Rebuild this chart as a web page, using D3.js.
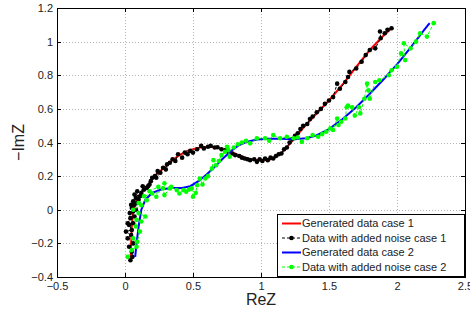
<!DOCTYPE html>
<html>
<head>
<meta charset="utf-8">
<script src="https://cdn.jsdelivr.net/npm/d3@7"></script>
<style>
	body { margin: 0; background: #fff; }
	svg { display: block; font-family: 'Liberation Sans', Arial, sans-serif; }
	.grid line { stroke: #b4b4b4; stroke-width: 1; stroke-dasharray: 1,2; }
	.axis path, .axis line { stroke: #000; shape-rendering: crispEdges; }
	.axis text { font-size: 11px; fill: #222; }
</style>
</head>
<body>
<div id="chart"></div>
<script>
// tick values
var xTicks = [-0.5, 0, 0.5, 1, 1.5, 2, 2.5];
var yTicks = [-0.4, -0.2, 0, 0.2, 0.4, 0.6, 0.8, 1, 1.2];

// generated data case 1 (ReZ, -ImZ)
var genCase1 = [
	[0.042, -0.31], [0.045, -0.2], [0.05, -0.1], [0.06, 0], [0.08, 0.05], [0.12, 0.1],
	[0.17, 0.15], [0.22, 0.2], [0.28, 0.245], [0.34, 0.29], [0.4, 0.325], [0.46, 0.35],
	[0.52, 0.365], [0.58, 0.373], [0.64, 0.373], [0.7, 0.365], [0.76, 0.35], [0.82, 0.33],
	[0.88, 0.31], [0.94, 0.298], [1.0, 0.293], [1.06, 0.298], [1.11, 0.315], [1.16, 0.345],
	[1.21, 0.39], [1.26, 0.44], [1.32, 0.495], [1.4, 0.565], [1.5, 0.65], [1.6, 0.745],
	[1.7, 0.85], [1.8, 0.95], [1.9, 1.035], [1.96, 1.08]
];

// data with added noise case 1
var noiseCase1 = [
	[0.04, -0.3], [0.055, -0.28], [0.05, -0.25], [0.03, -0.22], [0.06, -0.2], [0.02, -0.17],
	[0.045, -0.15], [0.007, -0.13], [0.05, -0.12], [0.03, -0.09], [0.06, -0.08], [0.02, -0.08],
	[0.04, -0.05], [0.07, -0.04], [0.035, -0.02], [0.06, -0.01], [0.05, 0.01], [0.08, 0.0],
	[0.045, 0.03], [0.07, 0.03], [0.09, 0.04], [0.06, 0.05], [0.1, 0.06], [0.08, 0.07],
	[0.11, 0.08], [0.07, 0.09], [0.12, 0.1], [0.09, 0.11], [0.14, 0.12], [0.16, 0.13],
	[0.13, 0.14], [0.18, 0.15], [0.17, 0.14], [0.2, 0.19], [0.19, 0.17], [0.22, 0.2],
	[0.24, 0.23], [0.23, 0.19], [0.26, 0.22], [0.28, 0.25], [0.3, 0.24], [0.31, 0.27],
	[0.33, 0.28], [0.35, 0.3], [0.37, 0.29], [0.39, 0.33], [0.42, 0.31], [0.44, 0.34],
	[0.46, 0.33], [0.48, 0.35], [0.5, 0.34], [0.53, 0.36], [0.56, 0.38], [0.58, 0.365],
	[0.61, 0.375], [0.63, 0.38], [0.66, 0.37], [0.68, 0.372], [0.71, 0.36], [0.74, 0.355],
	[0.76, 0.345], [0.79, 0.335], [0.81, 0.325], [0.84, 0.32], [0.86, 0.31], [0.88, 0.305],
	[0.9, 0.3], [0.92, 0.295], [0.95, 0.3], [0.97, 0.285], [0.99, 0.3], [1.01, 0.29],
	[1.03, 0.305], [1.05, 0.295], [1.07, 0.31], [1.09, 0.305], [1.11, 0.32], [1.13, 0.33],
	[1.15, 0.335], [1.17, 0.36], [1.19, 0.37], [1.21, 0.4], [1.23, 0.42], [1.25, 0.44],
	[1.27, 0.455], [1.29, 0.48], [1.31, 0.5], [1.34, 0.51], [1.36, 0.54], [1.38, 0.555],
	[1.41, 0.58], [1.44, 0.6], [1.47, 0.63], [1.5, 0.65], [1.53, 0.67], [1.56, 0.75],
	[1.58, 0.72], [1.62, 0.76], [1.64, 0.79], [1.65, 0.82], [1.7, 0.84], [1.74, 0.88],
	[1.77, 0.92], [1.8, 0.95], [1.84, 0.96], [1.88, 1.02], [1.875, 1.06], [1.91, 1.05],
	[1.93, 1.07], [1.96, 1.08]
];

// generated data case 2
var genCase2 = [
	[0.075, -0.28], [0.085, -0.2], [0.1, -0.1], [0.12, 0.0], [0.15, 0.06], [0.2, 0.1],
	[0.27, 0.122], [0.35, 0.13], [0.42, 0.13], [0.48, 0.14], [0.54, 0.17], [0.6, 0.21],
	[0.66, 0.255], [0.72, 0.305], [0.78, 0.35], [0.84, 0.385], [0.9, 0.405], [0.97, 0.418],
	[1.05, 0.423], [1.15, 0.423], [1.25, 0.42], [1.33, 0.425], [1.4, 0.44], [1.5, 0.48],
	[1.6, 0.54], [1.7, 0.61], [1.8, 0.69], [1.9, 0.775], [2.0, 0.865], [2.1, 0.965],
	[2.2, 1.07], [2.24, 1.11]
];

// data with added noise case 2
var noiseCase2 = [
	[0.02, -0.28], [0.05, -0.24], [0.085, -0.22], [0.06, -0.17], [0.09, -0.19], [0.11, -0.13],
	[0.08, -0.1], [0.085, -0.06], [0.12, -0.07], [0.15, -0.04], [0.1, -0.02], [0.06, 0.0],
	[0.12, 0.027], [0.1, 0.04], [0.16, 0.057], [0.14, 0.08], [0.2, 0.097], [0.18, 0.11],
	[0.245, 0.136], [0.23, 0.077], [0.29, 0.157], [0.28, 0.127], [0.29, 0.087], [0.33, 0.127],
	[0.34, 0.136], [0.38, 0.117], [0.4, 0.097], [0.43, 0.117], [0.45, 0.107], [0.47, 0.12],
	[0.49, 0.127], [0.5, 0.077], [0.52, 0.1], [0.53, 0.146], [0.55, 0.186], [0.57, 0.15],
	[0.59, 0.186], [0.61, 0.2], [0.64, 0.246], [0.65, 0.295], [0.67, 0.265], [0.69, 0.29],
	[0.71, 0.325], [0.735, 0.345], [0.76, 0.355], [0.77, 0.315], [0.75, 0.375], [0.8, 0.37],
	[0.83, 0.39], [0.86, 0.4], [0.89, 0.41], [0.92, 0.395], [0.97, 0.425], [1.03, 0.425],
	[1.06, 0.41], [1.09, 0.444], [1.14, 0.425], [1.19, 0.434], [1.24, 0.425], [1.27, 0.43],
	[1.3, 0.404], [1.34, 0.425], [1.38, 0.444], [1.42, 0.434], [1.45, 0.45], [1.48, 0.464],
	[1.51, 0.484], [1.53, 0.474], [1.56, 0.543], [1.57, 0.504], [1.59, 0.523], [1.62, 0.543],
	[1.63, 0.61], [1.64, 0.62], [1.67, 0.61], [1.69, 0.56], [1.72, 0.61], [1.73, 0.573],
	[1.76, 0.66], [1.78, 0.75], [1.79, 0.71], [1.8, 0.66], [1.84, 0.76], [1.87, 0.77],
	[1.94, 0.8], [1.96, 0.83], [2.0, 0.85], [2.03, 0.93], [2.06, 0.89], [2.05, 0.99],
	[2.1, 0.96], [2.14, 1.0], [2.17, 1.05], [2.22, 1.03], [2.27, 1.11]
];

var legendLabels = [
	'Generated data case 1',
	'Data with added noise case 1',
	'Generated data case 2',
	'Data with added noise case 2'
];

var width = 470, height = 314;
var margin = { top: 8, right: 5, bottom: 37, left: 57 };

var svg = d3.select('#chart')
	.append('svg')
	.attr('width', width)
	.attr('height', height);

var x = d3.scaleLinear().domain([-0.5, 2.5]).range([margin.left, width - margin.right]);
var y = d3.scaleLinear().domain([-0.4, 1.2]).range([height - margin.bottom, margin.top]);

var fmt = d3.format('');

// grid
var grid = svg.append('g').attr('class', 'grid');
grid.selectAll('line.gx')
	.data(xTicks.slice(1, -1))
	.enter().append('line')
	.attr('x1', function(d) { return Math.round(x(d)) + 0.5; })
	.attr('x2', function(d) { return Math.round(x(d)) + 0.5; })
	.attr('y1', y(1.2))
	.attr('y2', y(-0.4));
grid.selectAll('line.gy')
	.data(yTicks.slice(1, -1))
	.enter().append('line')
	.attr('y1', function(d) { return Math.round(y(d)) + 0.5; })
	.attr('y2', function(d) { return Math.round(y(d)) + 0.5; })
	.attr('x1', x(-0.5))
	.attr('x2', x(2.5));

// series
var plot = svg.append('g');
var line = d3.line()
	.x(function(d) { return x(d[0]); })
	.y(function(d) { return y(d[1]); });

function drawCurve(data, color) {
	plot.append('path')
		.datum(data)
		.attr('fill', 'none')
		.attr('stroke', color)
		.attr('stroke-width', 2)
		.attr('d', line);
}

function drawNoisy(data, color) {
	plot.append('path')
		.datum(data)
		.attr('fill', 'none')
		.attr('stroke', color)
		.attr('stroke-width', 1)
		.attr('stroke-dasharray', '3,2')
		.attr('d', line);
	plot.append('g')
		.selectAll('circle')
		.data(data)
		.enter().append('circle')
		.attr('cx', function(d) { return x(d[0]); })
		.attr('cy', function(d) { return y(d[1]); })
		.attr('r', 2.3)
		.attr('fill', color);
}

drawCurve(genCase1, '#ff0000');
drawNoisy(noiseCase1, '#000000');
drawCurve(genCase2, '#0000ff');
drawNoisy(noiseCase2, '#00ff00');

// axes (ticks inward, box on)
var h = height - margin.bottom;
svg.append('g')
	.attr('class', 'axis')
	.attr('transform', 'translate(0,' + h + ')')
	.call(d3.axisBottom(x).tickValues(xTicks).tickFormat(fmt).tickSizeInner(-4).tickSizeOuter(0).tickPadding(5));
svg.append('g')
	.attr('class', 'axis')
	.attr('transform', 'translate(0,' + margin.top + ')')
	.call(d3.axisTop(x).tickValues(xTicks).tickFormat('').tickSizeInner(-4).tickSizeOuter(0));
svg.append('g')
	.attr('class', 'axis')
	.attr('transform', 'translate(' + margin.left + ',0)')
	.call(d3.axisLeft(y).tickValues(yTicks).tickFormat(fmt).tickSizeInner(-4).tickSizeOuter(0).tickPadding(4));
svg.append('g')
	.attr('class', 'axis')
	.attr('transform', 'translate(' + (width - margin.right) + ',0)')
	.call(d3.axisRight(y).tickValues(yTicks).tickFormat('').tickSizeInner(-4).tickSizeOuter(0));

// axis labels
svg.append('text')
	.attr('x', (x(-0.5) + x(2.5)) / 2)
	.attr('y', 305)
	.attr('text-anchor', 'middle')
	.style('font-size', '16px')
	.style('fill', '#222')
	.text('ReZ');
svg.append('text')
	.attr('transform', 'translate(24,' + (y(-0.4) + y(1.2)) / 2 + ') rotate(-90)')
	.attr('text-anchor', 'middle')
	.style('font-size', '16px')
	.style('fill', '#222')
	.text('\u2212ImZ');

// legend
var legendItems = [
	{ color: '#ff0000', noisy: false },
	{ color: '#000000', noisy: true },
	{ color: '#0000ff', noisy: false },
	{ color: '#00ff00', noisy: true }
];
var legend = svg.append('g').attr('transform', 'translate(277,214)');
legend.append('rect')
	.attr('x', 0.5)
	.attr('y', 0.5)
	.attr('width', 187)
	.attr('height', 62)
	.attr('fill', '#fff')
	.attr('stroke', '#000')
	.attr('stroke-width', 1);
var rows = legend.selectAll('g.row')
	.data(legendItems)
	.enter().append('g')
	.attr('transform', function(d, i) { return 'translate(0,' + (9.5 + i * 14.5) + ')'; });
rows.append('line')
	.attr('x1', 5)
	.attr('x2', 24)
	.attr('stroke', function(d) { return d.color; })
	.attr('stroke-width', function(d) { return d.noisy ? 1 : 2; })
	.attr('stroke-dasharray', function(d) { return d.noisy ? '3,2' : null; });
rows.filter(function(d) { return d.noisy; })
	.append('circle')
	.attr('cx', 14.5)
	.attr('r', 2.3)
	.attr('fill', function(d) { return d.color; });
rows.append('text')
	.attr('x', 25)
	.attr('dy', '0.35em')
	.style('font-size', '11px')
	.style('fill', '#222')
	.text(function(d, i) { return legendLabels[i]; });
</script>
</body>
</html>
